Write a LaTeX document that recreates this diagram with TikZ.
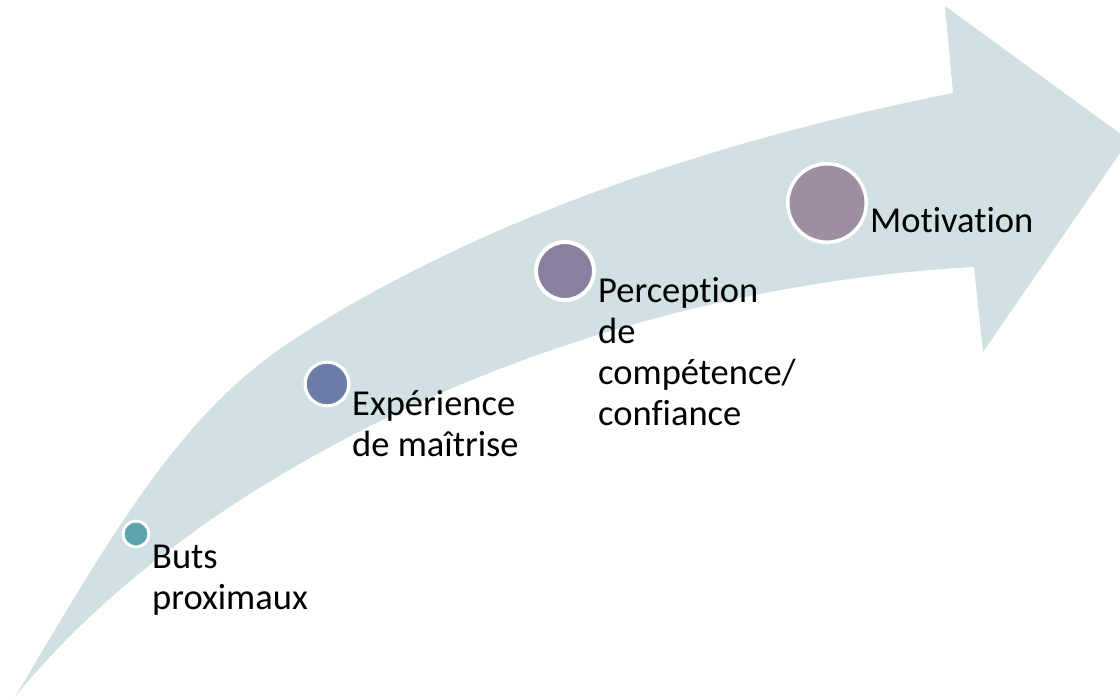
\documentclass[tikz,border=0pt]{standalone}
\usepackage{fontspec}
\setmainfont[Ligatures={NoCommon}]{Carlito}
\definecolor{arrowfill}{RGB}{209,224,226}
\definecolor{cA}{RGB}{91,163,174}
\definecolor{cB}{RGB}{108,123,167}
\definecolor{cC}{RGB}{138,126,161}
\definecolor{cD}{RGB}{158,143,160}
\tikzset{
  dot/.style={circle, draw=white, inner sep=0pt},
  lbl/.style={anchor=base west, inner sep=0pt, font=\fontsize{36.5}{41}\selectfont, text=black}
}
\newcommand{\twolines}[1]{\begin{tabular}[t]{@{}l@{}}#1\end{tabular}}
\begin{document}
\begin{tikzpicture}[x=1pt,y=-1pt]
\useasboundingbox (0,0) rectangle (1120,698);
\clip (0,0) rectangle (1120,698);
\fill[arrowfill] (15,697)
  .. controls (117,525) and (183,411.5) .. (293,340)
  .. controls (473,223) and (703,143) .. (953,93)
  -- (945,6) -- (1129,140) -- (983,352) -- (974,267)
  .. controls (560,290) and (190,480) .. (15,697) -- cycle;
\node[dot, fill=cA, minimum size=26pt, line width=3pt] (d1) at (136,534) {};
\node[dot, fill=cB, minimum size=43.8pt, line width=3.2pt] (d2) at (327,384) {};
\node[dot, fill=cC, minimum size=58pt, line width=4pt] (d3) at (565,271) {};
\node[dot, fill=cD, minimum size=78.5pt, line width=3.5pt] (d4) at (827,203) {};
\node[lbl] (t1) at (152,568) {\twolines{Buts\\proximaux}};
\node[lbl] (t2) at (352,415) {\twolines{Expérience\\de maîtrise}};
\node[lbl] (t3) at (598,302) {\twolines{Perception\\de\\compétence/\\confiance}};
\node[lbl] (t4) at (870,233) {Motivation};
\end{tikzpicture}
\end{document}
